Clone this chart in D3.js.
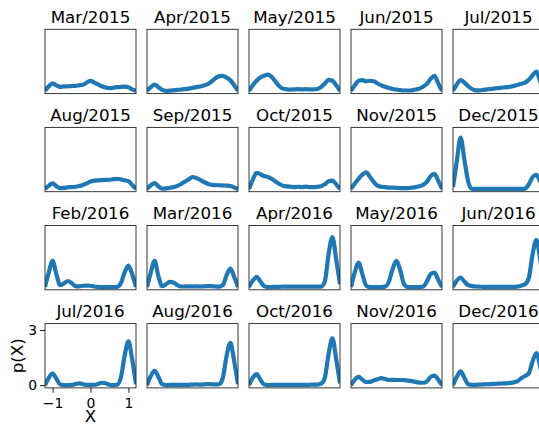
<!DOCTYPE html>
<html>
<head>
<meta charset="utf-8">
<script src="https://cdn.jsdelivr.net/npm/d3@7"></script>
<style>
  body { margin: 0; background: #fff; }
  text { font-family: "DejaVu Sans", sans-serif; fill: #000; }
</style>
</head>
<body>
<div id="chart"></div>
<script>
// x grid the densities were evaluated on
const xs = [-1.2, -1.1, -1.0, -0.9, -0.8, -0.7, -0.6, -0.5, -0.4, -0.3, -0.2, -0.1, 0,
            0.1, 0.2, 0.3, 0.4, 0.5, 0.6, 0.7, 0.8, 0.9, 1.0, 1.1, 1.2];

const months = ["Mar/2015", "Apr/2015", "May/2015", "Jun/2015", "Jul/2015",
                "Aug/2015", "Sep/2015", "Oct/2015", "Nov/2015", "Dec/2015",
                "Feb/2016", "Mar/2016", "Apr/2016", "May/2016", "Jun/2016",
                "Jul/2016", "Aug/2016", "Oct/2016", "Nov/2016", "Dec/2016"];

// p(X) per month
const mar2015 = [0, 0.25, 0.41, 0.3, 0.22, 0.24, 0.25, 0.26, 0.27, 0.3, 0.33, 0.45, 0.54, 0.45, 0.35, 0.25, 0.18, 0.15, 0.17, 0.2, 0.22, 0.23, 0.2, 0.08, 0];
const apr2015 = [0, 0.2, 0.34, 0.2, 0.05, 0, 0.01, 0.03, 0.05, 0.07, 0.09, 0.12, 0.16, 0.2, 0.24, 0.29, 0.36, 0.5, 0.68, 0.8, 0.82, 0.72, 0.58, 0.3, 0];
const may2015 = [0, 0.3, 0.55, 0.72, 0.82, 0.88, 0.75, 0.5, 0.25, 0.12, 0.08, 0.07, 0.08, 0.09, 0.08, 0.09, 0.08, 0.08, 0.1, 0.2, 0.4, 0.6, 0.55, 0.3, 0];
const jun2015 = [0, 0.3, 0.55, 0.58, 0.52, 0.55, 0.52, 0.4, 0.3, 0.22, 0.15, 0.1, 0.07, 0.04, 0.02, 0.02, 0.03, 0.07, 0.12, 0.22, 0.38, 0.65, 0.82, 0.4, 0];
const jul2015 = [0, 0.35, 0.58, 0.45, 0.25, 0.1, 0.03, 0.03, 0.05, 0.08, 0.1, 0.13, 0.15, 0.18, 0.2, 0.22, 0.27, 0.32, 0.38, 0.45, 0.6, 0.85, 1.05, 0.5, 0];
const aug2015 = [0, 0.18, 0.3, 0.15, 0.05, 0.06, 0.09, 0.1, 0.12, 0.16, 0.22, 0.3, 0.4, 0.45, 0.47, 0.48, 0.49, 0.5, 0.53, 0.55, 0.52, 0.47, 0.42, 0.22, 0];
const sep2015 = [0, 0.2, 0.32, 0.15, 0.02, 0.03, 0.06, 0.1, 0.17, 0.27, 0.4, 0.52, 0.65, 0.6, 0.5, 0.38, 0.28, 0.22, 0.21, 0.2, 0.19, 0.18, 0.16, 0.08, 0];
const oct2015 = [0, 0.5, 0.88, 0.8, 0.7, 0.65, 0.55, 0.4, 0.27, 0.18, 0.14, 0.12, 0.1, 0.12, 0.1, 0.13, 0.1, 0.1, 0.12, 0.15, 0.25, 0.42, 0.45, 0.25, 0];
const nov2015 = [0, 0.3, 0.55, 0.78, 0.9, 0.65, 0.38, 0.18, 0.12, 0.1, 0.07, 0.07, 0.06, 0.05, 0.05, 0.05, 0.07, 0.1, 0.15, 0.22, 0.38, 0.7, 0.82, 0.45, 0];
const dec2015 = [0.1, 1.5, 2.8, 1.6, 0.4, 0, 0, 0, 0, 0, 0, 0, 0, 0, 0, 0, 0, 0, 0, 0.02, 0.25, 0.65, 0.77, 0.4, 0];
const feb2016 = [0, 0.8, 1.42, 0.7, 0.1, 0.2, 0.33, 0.22, 0.05, 0.04, 0.07, 0.08, 0.07, 0.03, 0.01, 0, 0, 0, 0, 0.01, 0.2, 0.8, 1.17, 0.7, 0];
const mar2016 = [0, 0.8, 1.42, 0.6, 0.05, 0.15, 0.28, 0.25, 0.1, 0.03, 0.03, 0.04, 0.03, 0.04, 0.03, 0.04, 0.05, 0.05, 0.03, 0.02, 0.1, 0.65, 1.0, 0.55, 0];
const apr2016 = [0, 0.35, 0.55, 0.3, 0.05, 0, 0, 0.01, 0.01, 0.02, 0.02, 0.02, 0.02, 0.02, 0.02, 0.02, 0.02, 0.02, 0.02, 0.02, 0.3, 1.8, 2.72, 1.5, 0.15];
const may2016 = [0, 0.8, 1.33, 0.7, 0.08, 0, 0, 0, 0, 0.02, 0.3, 1.0, 1.42, 0.9, 0.15, 0, 0, 0, 0, 0.02, 0.3, 0.7, 0.78, 0.4, 0];
const jun2016 = [0, 0.35, 0.52, 0.3, 0.1, 0.05, 0.03, 0.02, 0.01, 0.01, 0.01, 0.01, 0.01, 0.01, 0.01, 0.01, 0.01, 0.02, 0.08, 0.15, 0.5, 1.8, 2.57, 1.5, 0.1];
const jul2016 = [0, 0.4, 0.63, 0.35, 0.03, 0, 0, 0.01, 0.06, 0.1, 0.05, 0.01, 0.01, 0.02, 0.07, 0.13, 0.1, 0.02, 0, 0.02, 0.4, 1.6, 2.38, 1.4, 0.05];
const aug2016 = [0, 0.5, 0.78, 0.45, 0.05, 0, 0.01, 0.02, 0.02, 0.02, 0.02, 0.02, 0.03, 0.04, 0.03, 0.04, 0.06, 0.05, 0.04, 0.05, 0.4, 1.6, 2.3, 1.3, 0.05];
const oct2016 = [0, 0.4, 0.6, 0.3, 0.03, 0, 0.01, 0.01, 0.01, 0.01, 0.01, 0.02, 0.02, 0.02, 0.02, 0.02, 0.02, 0.03, 0.03, 0.08, 0.4, 1.7, 2.55, 1.4, 0.1];
const nov2016 = [0, 0.3, 0.45, 0.3, 0.17, 0.18, 0.25, 0.32, 0.38, 0.33, 0.28, 0.29, 0.28, 0.28, 0.27, 0.25, 0.22, 0.18, 0.14, 0.13, 0.2, 0.45, 0.52, 0.3, 0];
const dec2016 = [0, 0.45, 0.75, 0.4, 0.05, 0.02, 0.02, 0.03, 0.04, 0.05, 0.06, 0.07, 0.08, 0.09, 0.1, 0.12, 0.15, 0.22, 0.38, 0.5, 0.65, 1.3, 1.75, 1.0, 0.05];

const series = [mar2015, apr2015, may2015, jun2015, jul2015,
                aug2015, sep2015, oct2015, nov2015, dec2015,
                feb2016, mar2016, apr2016, may2016, jun2016,
                jul2016, aug2016, oct2016, nov2016, dec2016];

const xTicks = [-1, 0, 1];
const yTicks = [0, 3];

const W = 539, H = 424;
const ncol = 5;
const left0 = 45, colStep = 102, top0 = 29.3, rowStep = 98.1;
const pw = 91, ph = 64.3;

const svg = d3.select("#chart")
  .append("svg")
    .attr("width", W)
    .attr("height", H);

const x = d3.scaleLinear().domain([-1.2, 1.2]).range([0, pw]);
const y = d3.scaleLinear().domain([-0.15, 3.35]).range([ph, 0]);

const line = d3.line()
  .x((d, i) => x(xs[i]))
  .y(d => y(d))
  .curve(d3.curveMonotoneX);

months.forEach(function(m, k) {
  const col = k % ncol, row = Math.floor(k / ncol);
  const g = svg.append("g")
    .attr("transform", `translate(${left0 + col * colStep},${top0 + row * rowStep})`);

  g.append("clipPath").attr("id", "clip" + k)
    .append("rect").attr("width", pw).attr("height", ph);

  g.append("path")
    .datum(series[k])
    .attr("clip-path", `url(#clip${k})`)
    .attr("fill", "none")
    .attr("stroke", "#1f77b4")
    .attr("stroke-width", 4.2)
    .attr("stroke-linejoin", "round")
    .attr("d", line);

  g.append("rect")
    .attr("width", pw).attr("height", ph)
    .attr("fill", "none")
    .attr("stroke", "#222")
    .attr("stroke-width", 0.9);

  g.append("text")
    .attr("x", pw / 2).attr("y", -6.6)
    .attr("text-anchor", "middle")
    .style("font-size", "16.7px")
    .text(m);

  // only the first panel of the last row carries axes
  if (row === 3 && col === 0) {
    const ax = g.append("g")
      .attr("transform", `translate(0,${ph})`)
      .call(d3.axisBottom(x).tickValues(xTicks).tickFormat(d3.format("d"))
        .tickSize(4.9).tickPadding(4.9));
    const ay = g.append("g")
      .call(d3.axisLeft(y).tickValues(yTicks).tickFormat(d3.format("d"))
        .tickSize(4.9).tickPadding(3));
    [ax, ay].forEach(a => {
      a.select(".domain").remove();
      a.selectAll("text").style("font-size", "13.9px").attr("fill", "#000")
        .style("font-family", "DejaVu Sans, sans-serif");
      a.selectAll("line").attr("stroke", "#000").attr("stroke-width", 0.9);
    });

    g.append("text")
      .attr("x", pw / 2).attr("y", ph + 34.3)
      .attr("text-anchor", "middle")
      .style("font-size", "16.7px")
      .text("X");

    g.append("text")
      .attr("transform", `translate(-22,${ph / 2}) rotate(-90)`)
      .attr("text-anchor", "middle")
      .style("font-size", "16.7px")
      .text("p(X)");
  }
});
</script>
</body>
</html>
